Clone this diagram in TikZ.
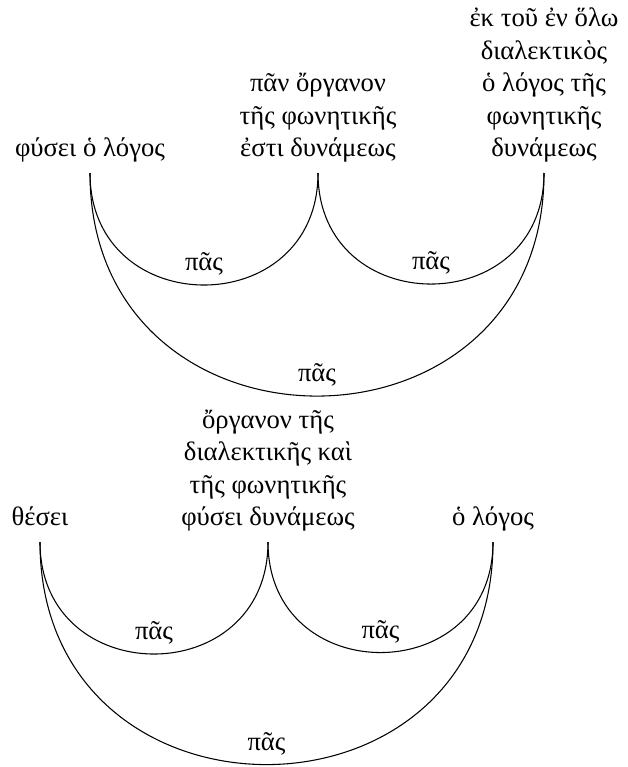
\documentclass[tikz,border=0pt]{standalone}
\usepackage{fontspec}
\setmainfont{Liberation Serif}
\usepackage{tikz}
\usetikzlibrary{positioning}

\begin{document}
\begin{tikzpicture}[x=0.375pt,y=0.375pt, every node/.style={font=\fontsize{10}{12.2}\selectfont}]
    \tikzstyle{word}=[align=center,anchor=south,text depth=2.5pt,inner sep=3.33pt]
    \tikzstyle{link}=[thin,black,out=-90,in=-90,looseness=1.68]
    \tikzstyle{rel}=[above]
    \useasboundingbox (0,0) rectangle (627,-767);
    \node[word] (fysei) at (90,-173) {φύσει ὁ λόγος};
    \node[word] (organon) at (318,-173) {πᾶν ὄργανον\\τῆς φωνητικῆς\\ἐστι δυνάμεως};
    \node[word] (holo) at (544,-173) {ἐκ τοῦ ἐν ὅλω\\διαλεκτικὸς\\ὁ λόγος τῆς\\φωνητικῆς\\δυνάμεως};
    \node[word] (thesei) at (40,-542) {θέσει};
    \node[word] (organonb) at (268,-542) {ὄργανον τῆς\\διαλεκτικῆς καὶ\\τῆς φωνητικῆς\\φύσει δυνάμεως};
    \node[word] (logos) at (493,-542) {ὁ λόγος};
    \draw (fysei.south) to[link] node[rel] (pas1) {πᾶς} (organon.south);
    \draw (organon.south) to[link] node[rel] (pas2) {πᾶς} (holo.south);
    \draw (fysei.south) to[link] node[rel] (pas3) {πᾶς} (holo.south);
    \draw (thesei.south) to[link] node[rel] (pas4) {πᾶς} (organonb.south);
    \draw (organonb.south) to[link] node[rel] (pas5) {πᾶς} (logos.south);
    \draw (thesei.south) to[link] node[rel] (pas6) {πᾶς} (logos.south);
\end{tikzpicture}
\end{document}
